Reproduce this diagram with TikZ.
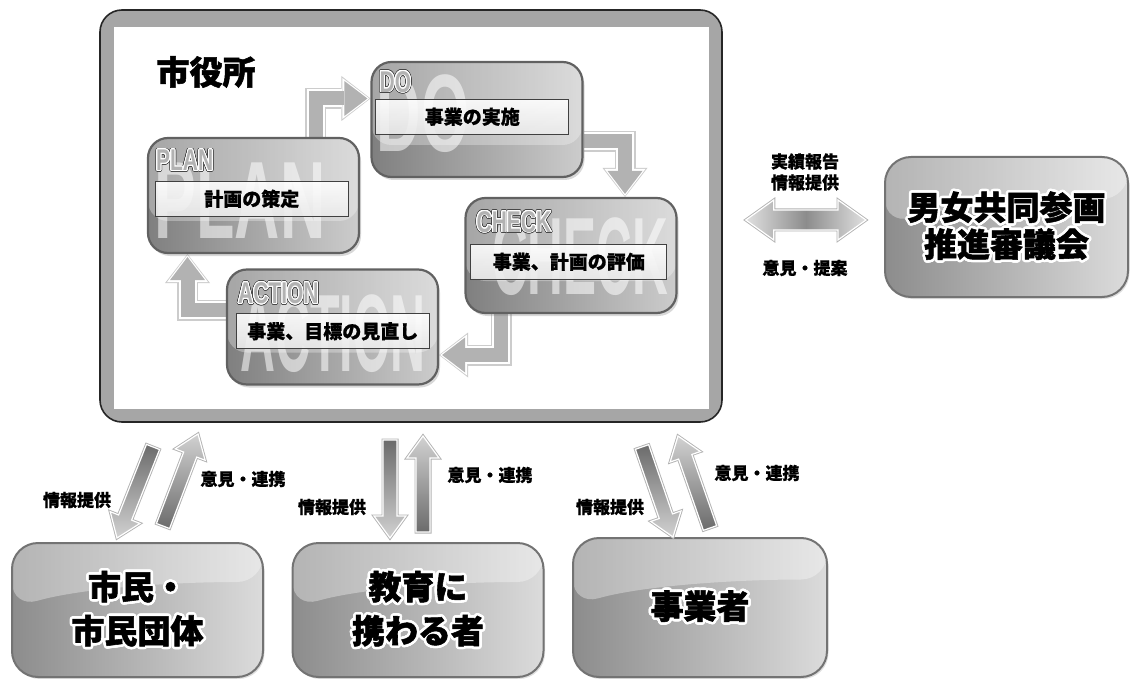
\documentclass[tikz,border=0pt]{standalone}
\usepackage{fontspec}
\setmainfont{Noto Sans CJK JP}
\newfontfamily\heavy{Noto Sans CJK JP}[BoldFeatures={FakeBold=1.6}]
\newfontfamily\semiheavy{Noto Sans CJK JP}[BoldFeatures={FakeBold=0.8}]
\newfontfamily\lat{Liberation Sans}
\usepackage{contour}
\contournumber{24}
\usetikzlibrary{calc,shadows,arrows.meta}
\pgfdeclarelayer{back}
\pgfdeclarelayer{bg}
\pgfsetlayers{back,bg,main}
\newcommand\blockarrow[6]{%
  \coordinate (ba-n) at ($(#3)!#6!(#2)$);
  \path[#1] ($(#2)!#4!90:(#3)$) -- ($(ba-n)!#4!90:(#3)$) -- ($(ba-n)!#5!90:(#3)$) -- (#3) -- ($(ba-n)!#5!-90:(#3)$) -- ($(ba-n)!#4!-90:(#3)$) -- ($(#2)!#4!-90:(#3)$) -- cycle;}
\newcommand\cycarrow[1]{%
  \draw[line width=21pt, black!20, -{Triangle[length=29pt,width=45pt,line width=0pt]}] #1;
  \draw[line width=18pt, white, -{Triangle[length=27pt,width=41pt,line width=0pt]}, shorten >=1pt] #1;
  \draw[line width=14pt, black!30, -{Triangle[length=23pt,width=35pt,line width=0pt]}, shorten >=3pt] #1;}
\newcommand\tagouter[1]{{\contourlength{1.7pt}\contour{black!72}{\textcolor{white}{\scalebox{0.7}[1]{#1}}}}}
\newcommand\taginner[1]{{\contourlength{0.9pt}\contour{white}{\textcolor{black!30}{\scalebox{0.7}[1]{#1}}}}}
\newcommand\halo[1]{{\contourlength{2.6pt}\contour{white}{#1}}}
\begin{document}
\begin{tikzpicture}[x=1pt,y=-1pt,
  cyclebox/.style={draw=black!62, line width=2.2pt, rounded corners=20pt,
    minimum width=211pt, minimum height=115pt, inner sep=0pt,
    left color=black!50, right color=black!20,
    drop shadow={shadow xshift=2pt, shadow yshift=-3pt, opacity=.3},
    path picture={\fill[white,opacity=.3] (path picture bounding box.north west) rectangle ($(path picture bounding box.south east)+(0,-32)$);}},
  lblbox/.style={draw=black!75, line width=0.8pt, top color=white, bottom color=black!8,
    fill opacity=.88, text opacity=1, minimum width=193pt, minimum height=35pt,
    inner sep=0pt, anchor=north west, font=\semiheavy\bfseries\fontsize{19}{19}\selectfont},
  tag/.style={anchor=north west, inner sep=0pt, font=\lat\bfseries\fontsize{30}{30}\selectfont},
  wm/.style={inner sep=0pt, text=white, text opacity=.55, font=\lat\bfseries\fontsize{110}{110}\selectfont},
  bigbox/.style={draw=black!55, line width=2pt, rounded corners=26pt,
    left color=black!45, right color=black!14, inner sep=0pt,
    drop shadow={shadow xshift=1.5pt, shadow yshift=-2pt, opacity=.25},
    path picture={\fill[white,opacity=.35] (path picture bounding box.north west) -- ($(path picture bounding box.west)+(0,-2)$) .. controls ($(path picture bounding box.west)+(70,-22)$) and ($(path picture bounding box.east)+(-90,-28)$) .. ($(path picture bounding box.east)+(0,-28)$) -- (path picture bounding box.north east) -- cycle;},
    align=center, font=\heavy\bfseries\fontsize{33}{44}\selectfont},
  lab/.style={font=\semiheavy\bfseries\fontsize{17}{21}\selectfont, align=center, inner sep=0pt},
  blk/.style={preaction={draw=black!30, line width=3pt}, draw=white, line width=1.2pt}
]
\useasboundingbox (0,0) rectangle (1135,679);

% ---------- outer frame ----------
\begin{pgfonlayer}{back}
  \node[draw=black!85, line width=1.6pt, fill=black!35, rounded corners=22pt,
        minimum width=622pt, minimum height=412pt] (city) at (411,216) {};
  \fill[white] ($(city.north west)+(15,18)$) rectangle ($(city.south east)+(-14,-14)$);
\end{pgfonlayer}

\node[font=\heavy\bfseries\fontsize{33}{33}\selectfont, inner sep=0pt] (title) at (206,72) {市役所};

% ---------- cycle boxes ----------
\node[cyclebox] (plan) at (253.5,195.5) {};
\node[cyclebox] (do) at (477,119.5) {};
\node[cyclebox] (check) at (571,255.5) {};
\node[cyclebox] (action) at (332.5,327) {};

% watermarks
\begin{scope}
  \clip[rounded corners=20pt] (plan.south west) rectangle (plan.north east);
  \node[wm] at (240,201) {\scalebox{0.57}[1]{PLAN}};
\end{scope}
\begin{scope}
  \clip[rounded corners=20pt] (do.south west) rectangle (do.north east);
  \node[wm] at (423,114) {\scalebox{0.56}[1]{DO}};
\end{scope}
\begin{scope}
  \clip[rounded corners=20pt] (check.south west) rectangle (check.north east);
  \node[wm] at (580,257) {\scalebox{0.45}[1]{CHECK}};
\end{scope}
\begin{scope}
  \clip[rounded corners=20pt] (action.south west) rectangle (action.north east);
  \node[wm] at (333,334) {\scalebox{0.44}[1]{ACTION}};
\end{scope}

% label boxes
\node[lblbox] (planl) at ($(plan.north west)+(8,44)$) {計画の策定};
\node[lblbox] (dol) at ($(do.north west)+(5,38)$) {事業の実施};
\node[lblbox, minimum width=196pt] (checkl) at ($(check.north west)+(6,47)$) {事業、計画の評価};
\node[lblbox] (actionl) at ($(action.north west)+(10,45)$) {事業、目標の見直し};

% tags
\node[tag] (plant) at ($(plan.north west)+(9,13)$) {\tagouter{PLAN}};
\node[tag] at (plant.north west) {\taginner{PLAN}};
\node[tag] (dot) at ($(do.north west)+(9,10)$) {\tagouter{DO}};
\node[tag] at (dot.north west) {\taginner{DO}};
\node[tag] (checkt) at ($(check.north west)+(12,14)$) {\tagouter{CHECK}};
\node[tag] at (checkt.north west) {\taginner{CHECK}};
\node[tag] (actiont) at ($(action.north west)+(12,14)$) {\tagouter{ACTION}};
\node[tag] at (actiont.north west) {\taginner{ACTION}};

% cycle arrows
\begin{pgfonlayer}{bg}
  \cycarrow{($(plan.north)+(62,0)$) |- ($(do.west)+(0,-21)$)}
  \cycarrow{($(do.east)+(0,22)$) -| ($(check.north)+(54,0)$)}
  \cycarrow{($(check.south)+(-70,0)$) |- ($(action.east)+(0,28)$)}
  \cycarrow{($(action.west)+(0,-17)$) -| ($(plan.south)+(-66,0)$)}
\end{pgfonlayer}

% ---------- council ----------
\node[bigbox, minimum width=243pt, minimum height=140pt, font=\heavy\bfseries\fontsize{33}{37}\selectfont] (council) at (1006.5,227)
  {\halo{男女共同参画}\\\halo{推進審議会}};
\coordinate (dl) at ($(city.east)+(23,4)$);
\coordinate (dr) at ($(council.west)+(-18,-7)$);
\path[blk, left color=black!12, right color=black!12, middle color=black!45]
  (dl) -- ($(dl)+(28,-20)$) -- ($(dl)+(28,-10)$) -- ($(dr)+(-28,-10)$) -- ($(dr)+(-28,-20)$) -- (dr)
  -- ($(dr)+(-28,20)$) -- ($(dr)+(-28,10)$) -- ($(dl)+(28,10)$) -- ($(dl)+(28,20)$) -- cycle;
\node[lab] (rep) at (805,172) {実績報告\\情報提供};
\node[lab] (prop) at (805,268) {意見・提案};

% ---------- bottom boxes ----------
\node[bigbox, minimum width=251pt, minimum height=134pt] (citizen) at (137.5,610) {\halo{市民・}\\\halo{市民団体}};
\node[bigbox, minimum width=251pt, minimum height=134pt] (edu) at (418,610) {\halo{教育に}\\\halo{携わる者}};
\node[bigbox, minimum width=254pt, minimum height=139pt] (biz) at (700,607.5) {\halo{事業者}};

% bottom arrows
\coordinate (c1a) at (153,447); \coordinate (c1b) at (117,538);
\coordinate (c1c) at (163,526); \coordinate (c1d) at (198,434);
\coordinate (c2a) at (390,440); \coordinate (c2b) at (390,538);
\coordinate (c2c) at (423,532); \coordinate (c2d) at (423,436);
\coordinate (c3a) at (642,447); \coordinate (c3b) at (673,537);
\coordinate (c3c) at (710,528); \coordinate (c3d) at (678,436);
\blockarrow{blk, top color=black!58, bottom color=black!18}{c1a}{c1b}{7pt}{16pt}{22pt}
\blockarrow{blk, top color=black!18, bottom color=black!58}{c1c}{c1d}{7pt}{16pt}{22pt}
\blockarrow{blk, top color=black!58, bottom color=black!18}{c2a}{c2b}{7pt}{16pt}{22pt}
\blockarrow{blk, top color=black!18, bottom color=black!58}{c2c}{c2d}{7pt}{16pt}{22pt}
\blockarrow{blk, top color=black!58, bottom color=black!18}{c3a}{c3b}{7pt}{16pt}{22pt}
\blockarrow{blk, top color=black!18, bottom color=black!58}{c3c}{c3d}{7pt}{16pt}{22pt}

\node[lab] (l1a) at (77,500) {情報提供};
\node[lab] (l1b) at (243,479) {意見・連携};
\node[lab] (l2a) at (332,507) {情報提供};
\node[lab] (l2b) at (490,475) {意見・連携};
\node[lab] (l3a) at (610,507) {情報提供};
\node[lab] (l3b) at (757,473) {意見・連携};
\end{tikzpicture}
\end{document}
